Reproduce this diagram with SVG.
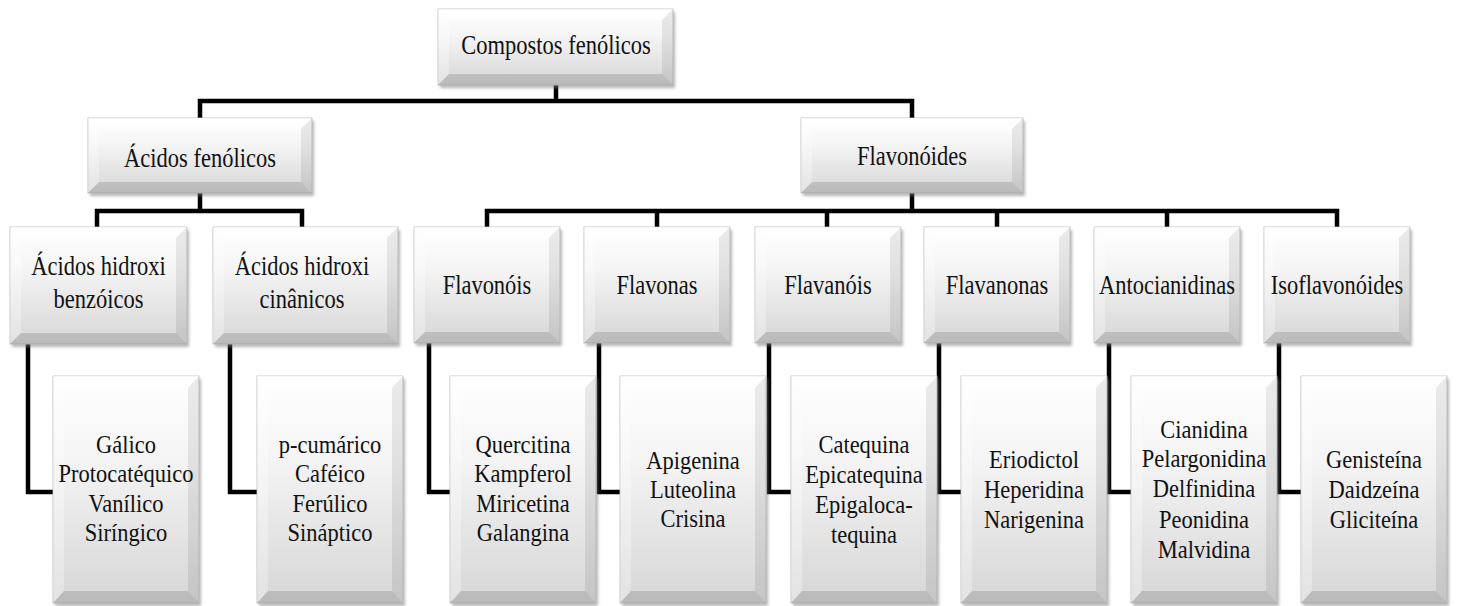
<svg xmlns="http://www.w3.org/2000/svg" xmlns:xlink="http://www.w3.org/1999/xlink" width="1457" height="606" viewBox="0 0 1457 606">
<style>
.t{font-family:"Liberation Serif","Times New Roman",serif;font-size:22.5px;text-anchor:middle;fill:#111}
.bt{fill:#ffffff;fill-opacity:0.6}
.bl{fill:#ffffff;fill-opacity:0.3}
.br{fill:#000000;fill-opacity:0.08}
.bb{fill:#000000;fill-opacity:0.13}
.sh{fill:#7a7a7a;fill-opacity:0.55}
.fc{fill:url(#face);stroke:#bdbdbd;stroke-width:0.8}
.cn{fill:none;stroke:#000;stroke-width:4.5;stroke-linejoin:miter;stroke-linecap:butt}
</style>
<defs>
<linearGradient id="face" x1="0" y1="0" x2="0" y2="1">
<stop offset="0" stop-color="#ffffff"/>
<stop offset="0.35" stop-color="#f5f5f5"/>
<stop offset="1" stop-color="#d6d6d6"/>
</linearGradient>
<filter id="blur" x="-10%" y="-10%" width="125%" height="125%"><feGaussianBlur stdDeviation="1.8"/></filter>
<g id="b-top">
<rect class="sh" x="2" y="3" width="235" height="76" filter="url(#blur)"/>
<rect class="fc" width="235" height="76"/>
<path class="bt" d="M0 0h235l-11 11h-213z"/>
<path class="bl" d="M0 0l11 11v54l-11 11z"/>
<path class="br" d="M235 0l-11 11v54l11 11z"/>
<path class="bb" d="M0 76h235l-11 -11h-213z"/>
</g>
<g id="b-h1">
<rect class="sh" x="2" y="3" width="224" height="75" filter="url(#blur)"/>
<rect class="fc" width="224" height="75"/>
<path class="bt" d="M0 0h224l-11 11h-202z"/>
<path class="bl" d="M0 0l11 11v53l-11 11z"/>
<path class="br" d="M224 0l-11 11v53l11 11z"/>
<path class="bb" d="M0 75h224l-11 -11h-202z"/>
</g>
<g id="b-h2">
<rect class="sh" x="2" y="3" width="222" height="75" filter="url(#blur)"/>
<rect class="fc" width="222" height="75"/>
<path class="bt" d="M0 0h222l-11 11h-200z"/>
<path class="bl" d="M0 0l11 11v53l-11 11z"/>
<path class="br" d="M222 0l-11 11v53l11 11z"/>
<path class="bb" d="M0 75h222l-11 -11h-200z"/>
</g>
<g id="b-c1">
<rect class="sh" x="2" y="3" width="177" height="117" filter="url(#blur)"/>
<rect class="fc" width="177" height="117"/>
<path class="bt" d="M0 0h177l-11 11h-155z"/>
<path class="bl" d="M0 0l11 11v95l-11 11z"/>
<path class="br" d="M177 0l-11 11v95l11 11z"/>
<path class="bb" d="M0 117h177l-11 -11h-155z"/>
</g>
<g id="b-c2">
<rect class="sh" x="2" y="3" width="185" height="117" filter="url(#blur)"/>
<rect class="fc" width="185" height="117"/>
<path class="bt" d="M0 0h185l-11 11h-163z"/>
<path class="bl" d="M0 0l11 11v95l-11 11z"/>
<path class="br" d="M185 0l-11 11v95l11 11z"/>
<path class="bb" d="M0 117h185l-11 -11h-163z"/>
</g>
<g id="b-c">
<rect class="sh" x="2" y="3" width="146" height="116" filter="url(#blur)"/>
<rect class="fc" width="146" height="116"/>
<path class="bt" d="M0 0h146l-11 11h-124z"/>
<path class="bl" d="M0 0l11 11v94l-11 11z"/>
<path class="br" d="M146 0l-11 11v94l11 11z"/>
<path class="bb" d="M0 116h146l-11 -11h-124z"/>
</g>
<g id="b-lo">
<rect class="sh" x="2" y="3" width="146" height="227" filter="url(#blur)"/>
<rect class="fc" width="146" height="227"/>
<path class="bt" d="M0 0h146l-11 12h-124z"/>
<path class="bl" d="M0 0l11 12v203l-11 12z"/>
<path class="br" d="M146 0l-11 12v203l11 12z"/>
<path class="bb" d="M0 227h146l-11 -12h-124z"/>
</g>
</defs>
<rect width="1457" height="606" fill="#ffffff"/>
<g id="connectors">
<path class="cn" d="M556 85V101"/>
<path class="cn" d="M200 118V101H912V118"/>
<path class="cn" d="M200 193V211"/>
<path class="cn" d="M97 227V211H302V227"/>
<path class="cn" d="M912 193V211"/>
<path class="cn" d="M487 227V211H1337V227"/>
<path class="cn" d="M657 211V227M827 211V227M997 211V227M1167 211V227"/>
<path class="cn" d="M28 344V492H53"/>
<path class="cn" d="M230 344V492H257"/>
<path class="cn" d="M429 343V492H450"/>
<path class="cn" d="M599 343V492H620"/>
<path class="cn" d="M769 343V492H791"/>
<path class="cn" d="M939 343V492H961"/>
<path class="cn" d="M1109 343V492H1131"/>
<path class="cn" d="M1279 343V492H1301"/>
</g>
<g id="n-compostos">
<use xlink:href="#b-top" href="#b-top" transform="translate(438 9)"/>
<text class="t" transform="translate(556 54) scale(1 1.25)">Compostos fenólicos</text>
</g>
<g id="n-acidos">
<use xlink:href="#b-h1" href="#b-h1" transform="translate(88 118)"/>
<text class="t" transform="translate(200 167) scale(1 1.2)">Ácidos fenólicos</text>
</g>
<g id="n-flavonoides">
<use xlink:href="#b-h2" href="#b-h2" transform="translate(801 118)"/>
<text class="t" transform="translate(912 165) scale(1 1.2)">Flavonóides</text>
</g>
<g id="n-benzoicos">
<use xlink:href="#b-c1" href="#b-c1" transform="translate(10 227)"/>
<text class="t" transform="translate(98.5 275) scale(1 1.2)">Ácidos hidroxi</text>
<text class="t" transform="translate(98.5 308) scale(1 1.2)">benzóicos</text>
</g>
<g id="n-cinamicos">
<use xlink:href="#b-c2" href="#b-c2" transform="translate(213 227)"/>
<text class="t" transform="translate(302 275) scale(1 1.2)">Ácidos hidroxi</text>
<text class="t" transform="translate(302 308) scale(1 1.2)">cinânicos</text>
</g>
<g id="n-flavonois">
<use xlink:href="#b-c" href="#b-c" transform="translate(414 227)"/>
<text class="t" transform="translate(487 294) scale(1 1.2)">Flavonóis</text>
</g>
<g id="n-flavonas">
<use xlink:href="#b-c" href="#b-c" transform="translate(584 227)"/>
<text class="t" transform="translate(657 294) scale(1 1.2)">Flavonas</text>
</g>
<g id="n-flavanois">
<use xlink:href="#b-c" href="#b-c" transform="translate(755 227)"/>
<text class="t" transform="translate(828 294) scale(1 1.2)">Flavanóis</text>
</g>
<g id="n-flavanonas">
<use xlink:href="#b-c" href="#b-c" transform="translate(924 227)"/>
<text class="t" transform="translate(997 294) scale(1 1.2)">Flavanonas</text>
</g>
<g id="n-antocianidinas">
<use xlink:href="#b-c" href="#b-c" transform="translate(1094 227)"/>
<text class="t" transform="translate(1167 294) scale(1 1.2)">Antocianidinas</text>
</g>
<g id="n-isoflavonoides">
<use xlink:href="#b-c" href="#b-c" transform="translate(1264 227)"/>
<text class="t" transform="translate(1337 294) scale(1 1.2)">Isoflavonóides</text>
</g>
<g id="n-l-benzoicos">
<use xlink:href="#b-lo" href="#b-lo" transform="translate(53 376)"/>
<text class="t" transform="translate(126 453) scale(1 1.15)">Gálico</text>
<text class="t" transform="translate(126 482) scale(1 1.15)">Protocatéquico</text>
<text class="t" transform="translate(126 512) scale(1 1.15)">Vanílico</text>
<text class="t" transform="translate(126 541) scale(1 1.15)">Siríngico</text>
</g>
<g id="n-l-cinamicos">
<use xlink:href="#b-lo" href="#b-lo" transform="translate(257 376)"/>
<text class="t" transform="translate(330 453) scale(1 1.15)">p-cumárico</text>
<text class="t" transform="translate(330 482) scale(1 1.15)">Caféico</text>
<text class="t" transform="translate(330 512) scale(1 1.15)">Ferúlico</text>
<text class="t" transform="translate(330 541) scale(1 1.15)">Sináptico</text>
</g>
<g id="n-l-flavonois">
<use xlink:href="#b-lo" href="#b-lo" transform="translate(450 376)"/>
<text class="t" transform="translate(523 453) scale(1 1.15)">Quercitina</text>
<text class="t" transform="translate(523 482) scale(1 1.15)">Kampferol</text>
<text class="t" transform="translate(523 512) scale(1 1.15)">Miricetina</text>
<text class="t" transform="translate(523 541) scale(1 1.15)">Galangina</text>
</g>
<g id="n-l-flavonas">
<use xlink:href="#b-lo" href="#b-lo" transform="translate(620 376)"/>
<text class="t" transform="translate(693 469) scale(1 1.15)">Apigenina</text>
<text class="t" transform="translate(693 498) scale(1 1.15)">Luteolina</text>
<text class="t" transform="translate(693 527) scale(1 1.15)">Crisina</text>
</g>
<g id="n-l-flavanois">
<use xlink:href="#b-lo" href="#b-lo" transform="translate(791 376)"/>
<text class="t" transform="translate(864 453) scale(1 1.15)">Catequina</text>
<text class="t" transform="translate(864 483) scale(1 1.15)">Epicatequina</text>
<text class="t" transform="translate(864 513) scale(1 1.15)">Epigaloca-</text>
<text class="t" transform="translate(864 543) scale(1 1.15)">tequina</text>
</g>
<g id="n-l-flavanonas">
<use xlink:href="#b-lo" href="#b-lo" transform="translate(961 376)"/>
<text class="t" transform="translate(1034 468) scale(1 1.15)">Eriodictol</text>
<text class="t" transform="translate(1034 498) scale(1 1.15)">Heperidina</text>
<text class="t" transform="translate(1034 528) scale(1 1.15)">Narigenina</text>
</g>
<g id="n-l-antocianidinas">
<use xlink:href="#b-lo" href="#b-lo" transform="translate(1131 376)"/>
<text class="t" transform="translate(1204 438) scale(1 1.15)">Cianidina</text>
<text class="t" transform="translate(1204 467) scale(1 1.15)">Pelargonidina</text>
<text class="t" transform="translate(1204 497) scale(1 1.15)">Delfinidina</text>
<text class="t" transform="translate(1204 528) scale(1 1.15)">Peonidina</text>
<text class="t" transform="translate(1204 558) scale(1 1.15)">Malvidina</text>
</g>
<g id="n-l-isoflavonoides">
<use xlink:href="#b-lo" href="#b-lo" transform="translate(1301 376)"/>
<text class="t" transform="translate(1374 468) scale(1 1.15)">Genisteína</text>
<text class="t" transform="translate(1374 498) scale(1 1.15)">Daidzeína</text>
<text class="t" transform="translate(1374 528) scale(1 1.15)">Gliciteína</text>
</g>
</svg>
